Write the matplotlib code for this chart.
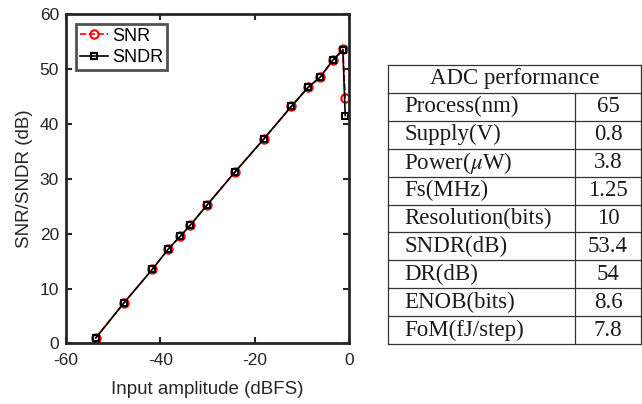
import matplotlib.pyplot as plt

# measured input amplitude sweep (dBFS) and results (dB)
amp = [-53.7, -47.8, -41.7, -38.3, -35.8, -33.7, -30.1, -24.2, -18.1, -12.2,
       -8.6, -6.1, -3.4, -1.3, -0.8]
snr = [1.0, 7.3, 13.5, 17.2, 19.5, 21.5, 25.2, 31.2, 37.2, 43.2,
       46.7, 48.5, 51.6, 53.6, 44.7]
sndr = [1.0, 7.3, 13.5, 17.2, 19.5, 21.5, 25.2, 31.2, 37.2, 43.2,
        46.7, 48.5, 51.6, 53.4, 41.5]

# performance summary table
tbl_title = 'ADC performance'
tbl_names = ['Process(nm)', 'Supply(V)', r'Power($\mu$W)', 'Fs(MHz)',
             'Resolution(bits)', 'SNDR(dB)', 'DR(dB)', 'ENOB(bits)', 'FoM(fJ/step)']
tbl_values = ['65', '0.8', '3.8', '1.25', '10', '53.4', '54', '8.6', '7.8']

plt.rcParams['font.family'] = ['Liberation Sans', 'DejaVu Sans']
plt.rcParams['mathtext.fontset'] = 'stix'
plt.rcParams['axes.unicode_minus'] = False

fig = plt.figure(figsize=(6.42, 4.04), dpi=100)
ax = fig.add_axes([0.1028, 0.1498, 0.4408, 0.8156])

ax.plot(amp, snr, '--o', color='red', lw=1.2, ms=6, mfc='none', mew=1.5, label='SNR')
ax.plot(amp, sndr, '-s', color='black', lw=1.2, ms=4.5, mfc='none', mew=1.5, label='SNDR')

ax.set_xlim(-60, 0)
ax.set_ylim(0, 60)
ax.set_xticks([-60, -40, -20, 0])
ax.set_yticks([0, 10, 20, 30, 40, 50, 60])
ax.tick_params(direction='in', top=True, right=True, labelsize=12.5, length=4,
               width=1.5, color='#262626', labelcolor='#262626')
ax.tick_params(axis='x', pad=7)
ax.tick_params(axis='y', pad=5)
for s in ax.spines.values():
    s.set_linewidth(2)
    s.set_color('#262626')
ax.set_xlabel('Input amplitude (dBFS)', fontsize=13.5, color='#262626', labelpad=9)
ax.set_ylabel('SNR/SNDR (dB)', fontsize=13.5, color='#262626', labelpad=5)

leg = ax.legend(loc='upper left', fontsize=13, handlelength=1.6, handletextpad=0.2,
                borderpad=0.2, labelspacing=0.25, borderaxespad=0.55, fancybox=False)
leg.get_frame().set_edgecolor('#262626')
leg.get_frame().set_linewidth(2)

# table drawn in its own axes, rows top to bottom
tax = fig.add_axes([0.6044, 0.1485, 0.394, 0.6906])
nrows = len(tbl_names) + 1
tax.set_xlim(0, 1)
tax.set_ylim(nrows, 0)
tax.axis('off')
split = 0.739
lc = '#333333'
for i in range(nrows + 1):
    tax.plot([0, 1], [i, i], color=lc, lw=0.9, clip_on=False)
tax.plot([0, 0], [0, nrows], color=lc, lw=0.9, clip_on=False)
tax.plot([1, 1], [0, nrows], color=lc, lw=0.9, clip_on=False)
tax.plot([split, split], [1, nrows], color=lc, lw=0.9, clip_on=False)

tfont = dict(family='Liberation Serif', fontsize=16.5, va='center', color='#1a1a1a')
tax.text(0.5, 0.5, tbl_title, ha='center', **tfont)
for i, (name, val) in enumerate(zip(tbl_names, tbl_values)):
    tax.text(0.065, i + 1.5, name, ha='left', **tfont)
    tax.text((split + 1) / 2, i + 1.5, val, ha='center', **tfont)

fig.savefig('out.png', dpi=100)
